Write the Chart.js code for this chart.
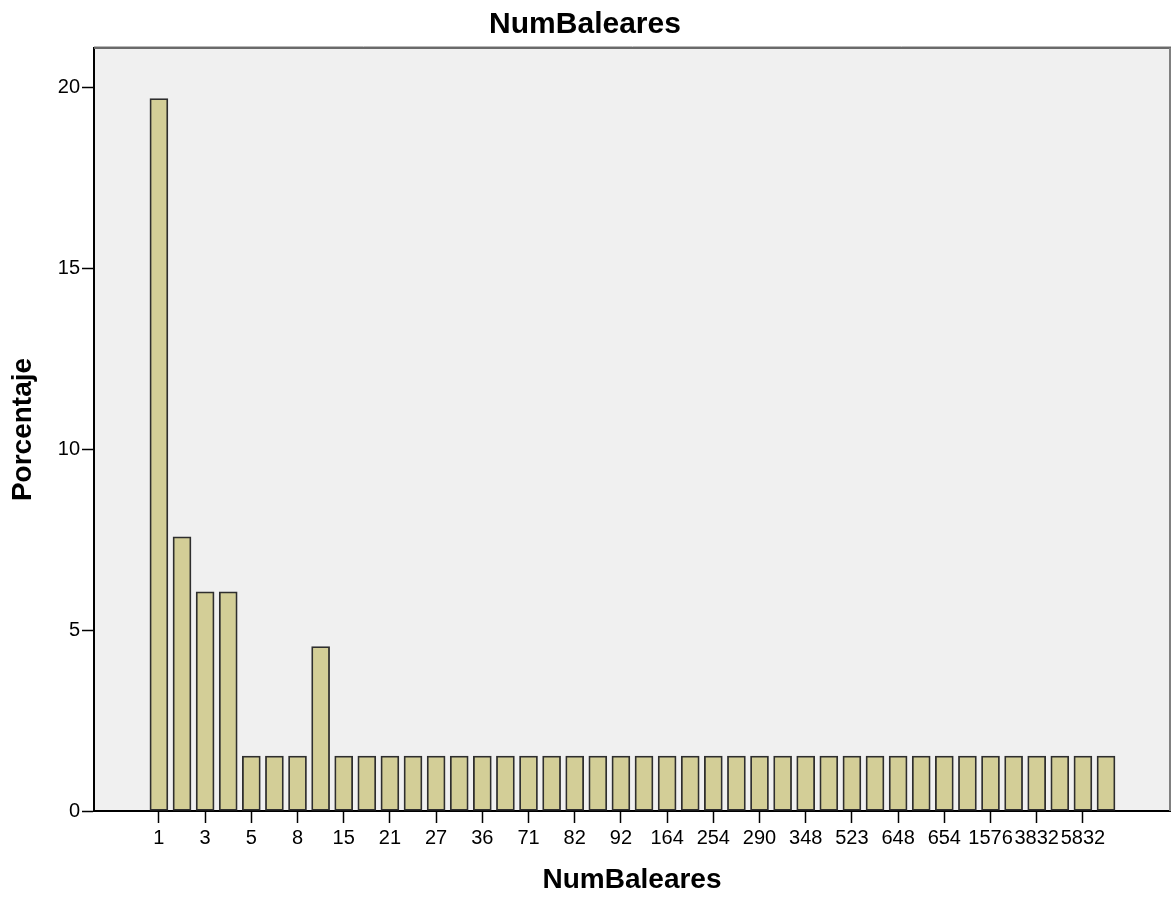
<!DOCTYPE html>
<html><head><meta charset="utf-8">
<script src="https://cdn.jsdelivr.net/npm/chart.js@4/dist/chart.umd.min.js"></script>
<style>html,body{margin:0;padding:0;background:#fff}</style>
</head><body>
<canvas id="c" width="1171" height="897"></canvas>
<script>
// Category values (NumBaleares), one per bar
const categories = [1,2,3,4,5,6,8,10,15,17,21,24,27,30,36,50,71,77,82,88,92,120,164,200,254,270,290,310,348,400,523,600,648,650,654,1000,1576,2500,3832,4500,5832,8750];
// Percent of cases for each category
const percents = [19.7,7.58,6.06,6.06,1.52,1.52,1.52,4.55,
  1.52,1.52,1.52,1.52,1.52,1.52,1.52,1.52,1.52,1.52,
  1.52,1.52,1.52,1.52,1.52,1.52,1.52,1.52,1.52,1.52,
  1.52,1.52,1.52,1.52,1.52,1.52,1.52,1.52,1.52,1.52,
  1.52,1.52,1.52,1.52];
// Tick labels shown on the x axis
const xTickLabels = ["1","3","5","8","15","21","27","36","71","82","92","164","254","290","348","523","648","654","1576","3832","5832"];
const yTicks = [0,5,10,15,20];

const FONT = "'Liberation Sans', Arial, sans-serif";

const bgPlugin = {
  id: 'bg',
  beforeDraw(chart) {
    const {ctx, chartArea: a} = chart;
    ctx.save();
    ctx.fillStyle = '#ffffff';
    ctx.fillRect(0, 0, chart.width, chart.height);
    ctx.fillStyle = '#f0f0f0';
    ctx.fillRect(a.left, a.top, a.right - a.left, a.bottom - a.top);
    ctx.restore();
  },
  afterDraw(chart) {
    const {ctx, chartArea: a} = chart;
    ctx.save();
    ctx.strokeStyle = '#b8b8b8';
    ctx.lineWidth = 1;
    ctx.beginPath(); ctx.moveTo(a.left, a.top - 1.5); ctx.lineTo(a.right + 1, a.top - 1.5); ctx.stroke();
    ctx.strokeStyle = '#6a6a6a';
    ctx.lineWidth = 2;
    ctx.beginPath(); ctx.moveTo(a.left, a.top); ctx.lineTo(a.right + 1, a.top); ctx.stroke();
    ctx.strokeStyle = '#808080';
    ctx.beginPath(); ctx.moveTo(a.right, a.top); ctx.lineTo(a.right, a.bottom); ctx.stroke();
    ctx.restore();
  }
};

new Chart(document.getElementById('c'), {
  type: 'bar',
  data: {
    datasets: [{
      data: percents.map((v, i) => ({x: i, y: v})),
      backgroundColor: '#d3ce97',
      borderColor: '#2e2e2e',
      borderWidth: 1.8,
      borderSkipped: false,
      barThickness: 18
    }]
  },
  options: {
    responsive: false,
    animation: false,
    devicePixelRatio: 1,
    layout: {padding: {right: 1}},
    plugins: {
      legend: {display: false},
      tooltip: {enabled: false},
      title: {
        display: true,
        text: 'NumBaleares',
        color: '#000',
        font: {family: FONT, size: 30, weight: 'bold', lineHeight: 1.2},
        padding: {top: 7, bottom: 5}
      }
    },
    scales: {
      x: {
        type: 'linear',
        min: -2.81,
        max: 43.77,
        offset: false,
        afterBuildTicks(s) {
          s.ticks = xTickLabels.map(l => ({value: categories.indexOf(Number(l))}));
        },
        afterFit(s) { s.height = 86; },
        grid: {offset: false, drawOnChartArea: false, drawTicks: true, tickLength: 12, tickColor: '#000', tickWidth: 1.5},
        border: {display: true, color: '#000', width: 2},
        ticks: {
          color: '#000', font: {family: FONT, size: 20}, padding: 3,
          autoSkip: false, maxRotation: 0, minRotation: 0,
          callback: (v) => String(categories[v])
        },
        title: {
          display: true, text: 'NumBaleares', color: '#000',
          font: {family: FONT, size: 28, weight: 'bold', lineHeight: 1.2},
          padding: {top: 0, bottom: 0}
        }
      },
      y: {
        min: 0,
        max: 21.1,
        afterBuildTicks(s) { s.ticks = yTicks.map(v => ({value: v})); },
        afterFit(s) { s.width = 94; },
        grid: {drawOnChartArea: false, drawTicks: true, tickLength: 12, tickColor: '#000', tickWidth: 1.5},
        border: {display: true, color: '#000', width: 2},
        ticks: {color: '#000', font: {family: FONT, size: 20}, padding: 2},
        title: {
          display: true, text: 'Porcentaje', color: '#000',
          font: {family: FONT, size: 28, weight: 'bold', lineHeight: 1.2},
          padding: {top: 6, bottom: 0}
        }
      }
    }
  },
  plugins: [bgPlugin]
});
</script>
</body></html>
